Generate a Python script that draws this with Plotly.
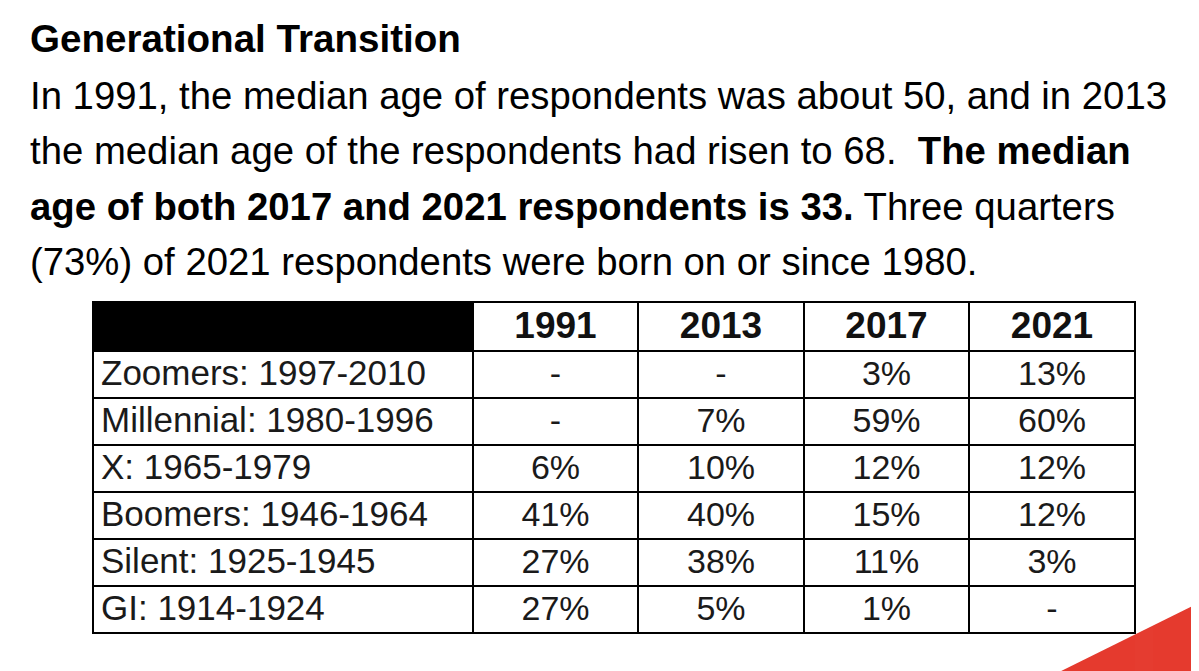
import plotly.graph_objects as go

# generation shares by survey year (None = "-")
generations = [
    "Zoomers: 1997-2010",
    "Millennial: 1980-1996",
    "X: 1965-1979",
    "Boomers: 1946-1964",
    "Silent: 1925-1945",
    "GI: 1914-1924",
]
years = ["1991", "2013", "2017", "2021"]
share_1991 = [None, None, 6, 41, 27, 27]
share_2013 = [None, 7, 10, 40, 38, 5]
share_2017 = [3, 59, 12, 15, 11, 1]
share_2021 = [13, 60, 12, 12, 3, None]

title = "Generational Transition"
lines = [
    "In 1991, the median age of respondents was about 50, and in 2013",
    "the median age of the respondents had risen to 68.&nbsp; <b>The median</b>",
    "<b>age of both 2017 and 2021 respondents is 33.</b> Three quarters",
    "(73%) of 2021 respondents were born on or since 1980.",
]

W, H = 1199, 671
OFF = 8  # page body margin
FONT = "Liberation Sans, Arial, sans-serif"


def px(x):
    return (x - OFF) / W


def py(y):
    return 1 - (y - OFF) / H


def fmt(col):
    return ["-" if v is None else f"{v}%" for v in col]


columns = [generations] + [fmt(c) for c in (share_1991, share_2013, share_2017, share_2021)]

fig = go.Figure()
fig.add_trace(go.Table(
    domain=dict(x=[px(93), px(1135)], y=[0, py(302)]),
    columnwidth=[380, 165, 166, 165, 166],
    header=dict(
        values=[" "] + years,
        fill_color=["black", "white", "white", "white", "white"],
        line=dict(color="black", width=2),
        align="center",
        font=dict(family=FONT, size=37, color="#111", weight="bold"),
        height=49,
    ),
    cells=dict(
        values=columns,
        fill_color="white",
        line=dict(color="black", width=2),
        align=["left", "center", "center", "center", "center"],
        font=dict(family=FONT, size=[35, 34, 34, 34, 34], color="#1a1a1a"),
        height=47,
    ),
))

# red corner decoration
fig.add_shape(
    type="path", xref="paper", yref="paper",
    path=f"M {px(1045)} {py(679)} L {px(1215)} {py(595)} L {px(1215)} {py(679)} Z",
    fillcolor="#E53A2E", line=dict(width=0), layer="below",
)

fig.add_annotation(
    text=f"<b>{title}</b>", xref="paper", yref="paper",
    x=px(28), y=py(38), xanchor="left", yanchor="middle",
    showarrow=False, font=dict(family=FONT, size=38.6, color="black"),
)
for i, line in enumerate(lines):
    fig.add_annotation(
        text=line, xref="paper", yref="paper",
        x=px(28), y=py(95 + 55.5 * i), xanchor="left", yanchor="middle",
        showarrow=False, font=dict(family=FONT, size=38.3, color="black"),
    )

fig.update_layout(
    width=W, height=H,
    margin=dict(l=0, r=0, t=0, b=0),
    paper_bgcolor="white", plot_bgcolor="white",
    xaxis=dict(visible=False), yaxis=dict(visible=False),
    showlegend=False,
)

fig.write_html("out.html")
